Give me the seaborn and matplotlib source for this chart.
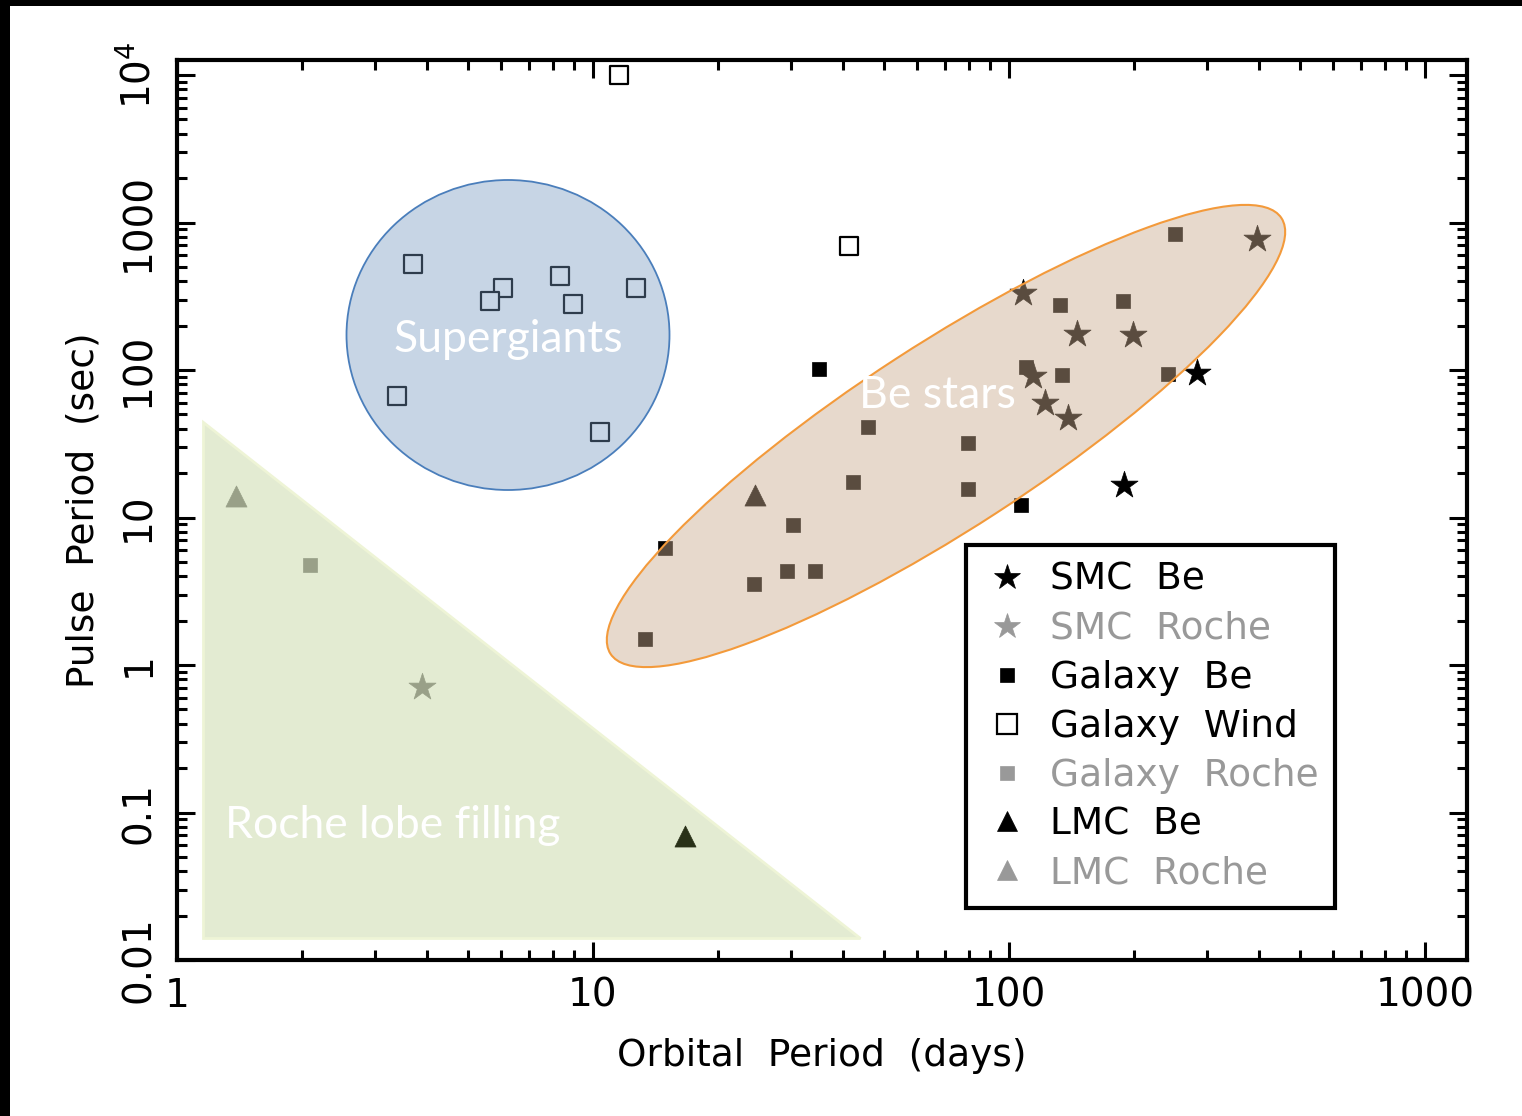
import matplotlib.pyplot as plt
import matplotlib.transforms as mtransforms
from matplotlib.colors import to_rgba
from matplotlib.lines import Line2D
from matplotlib.patches import Ellipse, Polygon, Rectangle
from matplotlib.ticker import LogLocator, NullFormatter
import pandas as pd
import seaborn as sns

# orbital period (days) and pulse period (sec)
smc_be_orb = [108, 146, 199, 114, 122, 139, 394, 283, 189]
smc_be_pulse = [334, 176, 172, 91, 60, 47, 778, 95, 16.5]

smc_roche_orb = [3.88]
smc_roche_pulse = [0.71]

galaxy_be_orb = [251, 133, 188, 110, 134, 241, 45.8, 79.7, 42.2, 79.7,
                 30.3, 24.4, 29.3, 34.2, 13.3, 34.9, 14.9, 107]
galaxy_be_pulse = [841, 277, 294, 105, 92.5, 94, 41, 31.9, 17.3, 15.7,
                   8.96, 3.56, 4.35, 4.35, 1.50, 101, 6.25, 12.1]

galaxy_wind_orb = [11.55, 41.2, 3.69, 6.08, 5.65, 8.33, 8.95, 12.7, 3.38, 10.4]
galaxy_wind_pulse = [10000, 697, 526, 361, 294, 435, 281, 361, 66.5, 37.9]

galaxy_roche_orb = [2.09]
galaxy_roche_pulse = [4.79]

lmc_be_orb = [24.5, 16.6]
lmc_be_pulse = [14.1, 0.0698]

lmc_roche_orb = [1.39]
lmc_roche_pulse = [13.9]

labels = ['SMC  Be', 'SMC  Roche', 'Galaxy  Be', 'Galaxy  Wind',
          'Galaxy  Roche', 'LMC  Be', 'LMC  Roche']

GREY = '#999999'

# label, x, y, marker, fill, edge, scatter size, legend marker size
series = [
    (labels[0], smc_be_orb, smc_be_pulse, '*', 'black', 'black', 420, 19),
    (labels[1], smc_roche_orb, smc_roche_pulse, '*', GREY, GREY, 420, 19),
    (labels[2], galaxy_be_orb, galaxy_be_pulse, 's', 'black', 'black', 110, 10),
    (labels[3], galaxy_wind_orb, galaxy_wind_pulse, 's', 'white', 'black', 150, 14),
    (labels[4], galaxy_roche_orb, galaxy_roche_pulse, 's', GREY, GREY, 110, 10),
    (labels[5], lmc_be_orb, lmc_be_pulse, '^', 'black', 'black', 230, 15),
    (labels[6], lmc_roche_orb, lmc_roche_pulse, '^', GREY, GREY, 230, 15),
]
text_colors = ['black', GREY, 'black', 'black', GREY, 'black', GREY]

sns.set_theme(style='ticks')
plt.rcParams['font.family'] = ['DejaVu Sans']
plt.rcParams['mathtext.default'] = 'regular'
plt.rcParams['text.color'] = 'black'
plt.rcParams['axes.labelcolor'] = 'black'
plt.rcParams['xtick.color'] = 'black'
plt.rcParams['ytick.color'] = 'black'

W, H = 1522, 1116
fig = plt.figure(figsize=(W / 100, H / 100), dpi=100)
fig.patch.set_facecolor('white')
ax = fig.add_axes([177 / W, 156 / H, 1290 / W, 900 / H])

for name, orb, pulse, marker, face, edge, size, _ in series:
    d = pd.DataFrame({'orbital': orb, 'pulse': pulse})
    sns.scatterplot(data=d, x='orbital', y='pulse', marker=marker, color=face,
                    edgecolor=edge, linewidth=1.6 if face == 'white' else 0.5,
                    s=size, ax=ax, zorder=2, legend=False)

ax.set_xscale('log')
ax.set_yscale('log')
ax.set_xlim(1, 1262)
ax.set_ylim(0.01, 12640)

ax.set_xticks([1, 10, 100, 1000])
ax.set_xticklabels(['1', '10', '100', '1000'])
ax.set_yticks([0.01, 0.1, 1, 10, 100, 1000, 10000])
ax.set_yticklabels(['0.01', '0.1', '1', '10', '100', '1000', '$10^4$'],
                   rotation=90, va='center')
ax.xaxis.set_minor_locator(LogLocator(base=10, subs=range(2, 10), numticks=20))
ax.yaxis.set_minor_locator(LogLocator(base=10, subs=range(2, 10), numticks=20))
ax.xaxis.set_minor_formatter(NullFormatter())
ax.yaxis.set_minor_formatter(NullFormatter())

ax.tick_params(which='both', direction='in', top=True, right=True,
               color='black', labelcolor='black', width=2.2, labelsize=28)
ax.tick_params(which='major', length=13)
ax.tick_params(which='minor', length=7)
ax.tick_params(axis='x', pad=12)
ax.tick_params(axis='y', pad=14)
for sp in ax.spines.values():
    sp.set_linewidth(3)
    sp.set_color('black')

ax.set_xlabel('Orbital  Period  (days)', fontsize=27, labelpad=17)
ax.set_ylabel('Pulse  Period  (sec)', fontsize=27, labelpad=12)

# reference-pixel frame for the hand drawn regions and their captions
ref = mtransforms.Affine2D().scale(1 / W, -1 / H).translate(0, 1) + fig.transFigure

ax.add_patch(Ellipse((508, 335), 323, 310, transform=ref, zorder=3,
                     facecolor=to_rgba('#7598c0', 0.40), edgecolor='#4a7ebb', lw=1.3))
ax.add_patch(Ellipse((946, 436), 800, 184, angle=-33, transform=ref, zorder=3,
                     facecolor=to_rgba('#caab8e', 0.45), edgecolor='#f39a3b', lw=1.5))
ax.add_patch(Polygon([(203, 422), (203, 938), (860, 938)], closed=True, transform=ref,
                     zorder=3, facecolor=to_rgba('#99b65b', 0.27),
                     edgecolor='#eef4d6', lw=2))

region_font = ['Lato', 'DejaVu Sans']
ax.text(508, 339, 'Supergiants', transform=ref, color='white', fontsize=32,
        family=region_font, ha='center', va='center', zorder=4)
ax.text(937, 395, 'Be stars', transform=ref, color='white', fontsize=32,
        family=region_font, ha='center', va='center', zorder=4)
ax.text(225, 826, 'Roche lobe filling', transform=ref, color='white', fontsize=32,
        family=region_font, ha='left', va='center', zorder=4)

handles = []
for name, orb, pulse, marker, face, edge, size, ms in series:
    handles.append(Line2D([], [], ls='none', marker=marker, ms=ms,
                          mfc=face, mec=edge, mew=1.6 if face == 'white' else 0.5))
leg = ax.legend(handles, labels, loc='upper left',
                bbox_to_anchor=((966 - 177) / 1290, (960 - 545) / 900),
                borderaxespad=0, fontsize=27, labelcolor=text_colors,
                frameon=True, fancybox=False, edgecolor='black', framealpha=1,
                borderpad=0.45, labelspacing=0.345, handlelength=1.3,
                handletextpad=0.48)
leg.get_frame().set_linewidth(3)
leg.set_zorder(6)

# dark strips along the top and left edge of the original picture
fig.add_artist(Rectangle((0, 0), W, 6, transform=ref, color='black', lw=0))
fig.add_artist(Rectangle((0, 0), 10, H, transform=ref, color='black', lw=0))

fig.savefig('out.png', dpi=100, facecolor='white')
